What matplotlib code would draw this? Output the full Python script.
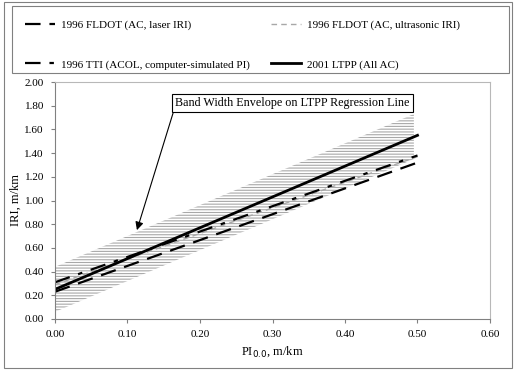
import matplotlib
matplotlib.use("Agg")
import matplotlib.pyplot as plt
from matplotlib.patches import Rectangle

plt.rcParams['font.family'] = ['Liberation Serif', 'DejaVu Serif']
plt.rcParams['hatch.linewidth'] = 0.8

# Data
pi = [0.0, 0.5]
iri_laser = [0.23, 1.32]
iri_ultra = [0.29, 1.37]
iri_tti = [0.31, 1.38]
iri_ltpp = [0.25, 1.55]
band_x = [0.0, 0.495]
band_lower = [0.06, 1.35]
band_upper = [0.44, 1.73]

xticks = [0.0, 0.1, 0.2, 0.3, 0.4, 0.5, 0.6]
yticks = [0.0, 0.2, 0.4, 0.6, 0.8, 1.0, 1.2, 1.4, 1.6, 1.8, 2.0]

W, H = 515, 370
fig = plt.figure(figsize=(W/100, H/100), dpi=100)
ax = fig.add_axes([55/W, 1-319/H, (490-55)/W, (319-82)/H])

ax.fill_between(band_x, band_lower, band_upper, facecolor='none',
                edgecolor='#a8a8a8', hatch='------', linewidth=0)
l1, = ax.plot(pi, iri_laser, color='black', lw=1.6, dashes=(7, 4),
              label='1996 FLDOT (AC, laser IRI)')
l2, = ax.plot(pi, iri_ultra, color='#a8a8a8', lw=1.0, dashes=(4, 3),
              label='1996 FLDOT (AC, ultrasonic IRI)')
l3, = ax.plot(pi, iri_tti, color='black', lw=1.6, dashes=(7, 4, 2, 4),
              label='1996 TTI (ACOL, computer-simulated PI)')
l4, = ax.plot(pi, iri_ltpp, color='black', lw=2.0,
              label='2001 LTPP (All AC)')

ax.set_xlim(0, 0.6)
ax.set_ylim(0, 2.0)
ax.set_xticks(xticks)
ax.set_yticks(yticks)
ax.set_xticklabels([f'{v:.2f}' for v in xticks], fontsize=8)
ax.set_yticklabels([f'{v:.2f}' for v in yticks], fontsize=8)
ax.tick_params(direction='out', length=3, width=0.8, color='#808080', pad=5)
for s in ['left', 'bottom']:
    ax.spines[s].set_color('#808080')
    ax.spines[s].set_linewidth(0.8)
for s in ['top', 'right']:
    ax.spines[s].set_color('#b8b8b8')
    ax.spines[s].set_linewidth(0.8)

ax.set_xlabel(r'PI$_{0.0}$, m/km', fontsize=9, labelpad=4)
ax.set_ylabel('IRI, m/km', fontsize=9, labelpad=2)

ax.annotate('Band Width Envelope on LTPP Regression Line',
            xy=(0.113, 0.75), xytext=(0.3276, 1.82),
            ha='center', va='center', fontsize=8.7,
            bbox=dict(boxstyle='square,pad=0.25', fc='white', ec='black', lw=0.8),
            arrowprops=dict(arrowstyle='-|>', color='black', lw=0.8,
                            relpos=(0.0, 0.3), mutation_scale=12, shrinkA=0, shrinkB=0))

# legend frame
fig.patches.append(Rectangle((12/W, 1-73/H), (509-12)/W, (73-6)/H,
                             transform=fig.transFigure, fill=False,
                             edgecolor='#808080', lw=0.8))
leg = fig.legend(handles=[l1, l3, l2, l4], ncol=2,
                 loc='upper left', bbox_to_anchor=(25/W, 1-20/H),
                 fontsize=8, frameon=False, handlelength=2.7,
                 handletextpad=0.55, borderaxespad=0, borderpad=0,
                 labelspacing=2.65, columnspacing=1.9)

fig.patches.append(Rectangle((4/W, 1-368/H), (512-4)/W, (368-2)/H,
                             transform=fig.transFigure, fill=False,
                             edgecolor='#808080', lw=0.8))

fig.savefig('out.png', dpi=100)
